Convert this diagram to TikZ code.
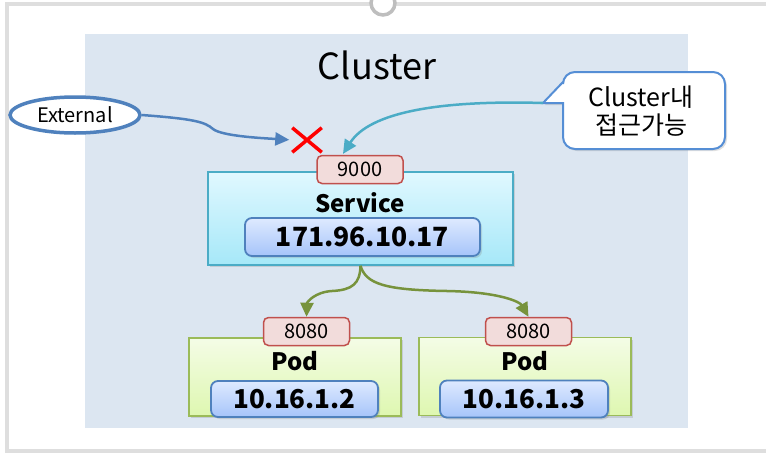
\documentclass[tikz,border=0pt]{standalone}
\usepackage{fontspec}
\setmainfont{Noto Sans CJK KR}
\usetikzlibrary{arrows.meta,shapes.geometric,shapes.misc,shadows}

\definecolor{clusterbg}{RGB}{220,230,241}
\definecolor{framegray}{RGB}{222,222,222}
\definecolor{handlegray}{RGB}{190,190,190}
\definecolor{extblue}{RGB}{79,129,189}
\definecolor{tealline}{RGB}{75,172,198}
\definecolor{greenline}{RGB}{119,147,60}
\definecolor{portfill}{RGB}{242,220,219}
\definecolor{portline}{RGB}{192,80,77}
\definecolor{svctop}{RGB}{224,248,255}
\definecolor{svcbot}{RGB}{166,232,248}
\definecolor{iptop}{RGB}{222,234,255}
\definecolor{ipbot}{RGB}{166,196,250}
\definecolor{podtop}{RGB}{244,252,230}
\definecolor{podbot}{RGB}{222,247,176}
\definecolor{podline}{RGB}{155,187,89}
\definecolor{callline}{RGB}{85,142,213}

\begin{document}
\begin{tikzpicture}[x=1pt,y=-1pt,
  shade/.style={drop shadow={opacity=0.25,shadow xshift=2pt,shadow yshift=-2pt}},
  port/.style={draw=portline,fill=portfill,line width=1.5pt,rounded corners=5pt,
    minimum width=86pt,minimum height=28pt,inner sep=0pt,font=\fontsize{20}{20}\selectfont},
  ipbox/.style={draw=extblue,line width=1.8pt,rounded corners=7pt,top color=iptop,bottom color=ipbot,
    shade,inner sep=0pt,font=\bfseries\fontsize{26}{26}\selectfont},
  podbox/.style={draw=podline,line width=1.8pt,top color=podtop,bottom color=podbot,shade,
    minimum width=212pt,minimum height=78pt,inner sep=0pt},
  heading/.style={font=\bfseries\fontsize{24}{24}\selectfont,inner sep=0pt},
  link/.style={line width=2.5pt,-{Triangle[length=14pt,width=13pt]}}
]
% \draw[step=50,gray!40,very thin] (0,0) grid (766,453);
\useasboundingbox (0,0) rectangle (766,453);

% frame of the slide
\draw[framegray,line width=4pt] (766,4) -- (6.5,4) -- (6.5,451) -- (766,451);
\filldraw[fill=white,draw=handlegray,line width=3.5pt] (383,3) circle (12);

% cluster area
\fill[clusterbg] (85,34) rectangle (688,428);
\node[font=\fontsize{36}{36}\selectfont] (title) at (377,65) {Cluster};

% outside
\node[ellipse,draw=extblue,fill=white,line width=3.5pt,minimum width=130pt,minimum height=36pt,
  inner sep=0pt,font=\fontsize{20}{20}\selectfont] (ext) at (75,115) {External};
\node[cross out,draw=red,line width=3.5pt,minimum width=26pt,minimum height=21pt] (block) at (307,140) {};

% callout
\filldraw[fill=white,draw=callline,line width=2pt,shade]
  (563,103) [rounded corners=12pt] -- (563,149) -- (725,149) -- (725,72) -- (563,72)
  [sharp corners] -- (563,82) -- (543,103) -- cycle;
\coordinate (tip) at (543,103);
\node[align=center,font=\fontsize{25}{28}\selectfont] (inside) at (641,111) {Cluster내\\접근가능};

% service
\node[draw=tealline,line width=1.5pt,top color=svctop,bottom color=svcbot,shade,
  minimum width=305pt,minimum height=93pt,inner sep=0pt] (svc) at (360.5,218.5) {};
\node[port] (svcport) at (360,169.5) {9000};
\node[heading] (svclabel) at (360,203) {Service};
\node[ipbox,minimum width=235pt,minimum height=38pt,font=\bfseries\fontsize{26.5}{26.5}\selectfont]
  (svcip) at (362.5,237) {171.96.10.17};

% pods
\node[podbox] (podA) at (295,377) {};
\node[port] (portA) at (306.5,331.5) {8080};
\node[heading] (labelA) at (295,361) {Pod};
\node[ipbox,minimum width=167pt,minimum height=36pt] (ipA) at (294.5,399) {10.16.1.2};

\node[podbox] (podB) at (525,376.5) {};
\node[port] (portB) at (528.5,331.5) {8080};
\node[heading] (labelB) at (525,361) {Pod};
\node[ipbox,minimum width=168pt,minimum height=37pt] (ipB) at (524,399) {10.16.1.3};

% connectors
\draw[link,extblue,shorten >=3pt] (ext.east) .. controls (195,119) and (205,122) .. (213,129)
  .. controls (222,136) and (260,138) .. (block.west);
\draw[link,tealline,shorten >=1pt] (tip) .. controls (440,100) and (370,112) .. (svcport.140);
\draw[link,greenline] (svc.south) .. controls (360,284) and (352,290) .. (332,291)
  .. controls (315,292) and (307,302) .. (portA.north);
\draw[link,greenline] (svc.south) .. controls (366,284) and (385,290) .. (447,291)
  .. controls (500,292) and (520,302) .. (portB.north);

\end{tikzpicture}
\end{document}
